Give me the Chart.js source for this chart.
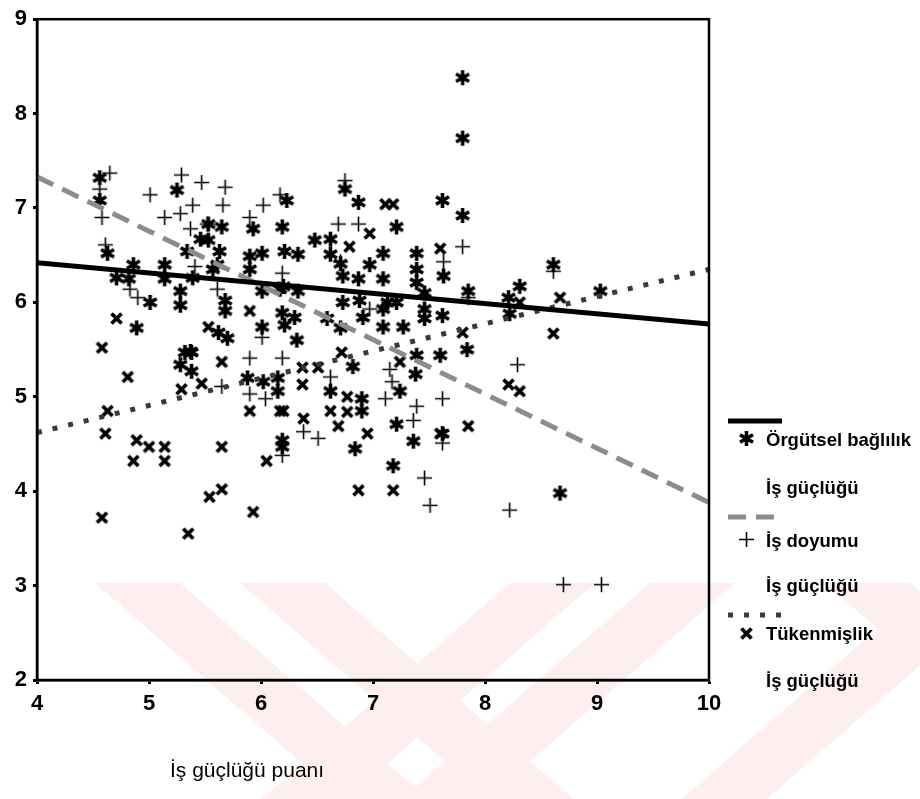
<!DOCTYPE html>
<html lang="tr">
<head>
<meta charset="UTF-8">
<title>İş güçlüğü puanı</title>
<script src="https://cdn.jsdelivr.net/npm/chart.js"></script>
<style>
  html, body { margin: 0; padding: 0; background: #fff; }
  #wrap { position: relative; width: 920px; height: 799px; }
  #legend { position: absolute; left: 0; top: 0; font-family: "Liberation Sans", Arial, sans-serif; font-weight: bold; font-size: 18.5px; color: #000; }
  .lg { position: absolute; white-space: nowrap; line-height: 22px; }
  #xtitle { position: absolute; left: 170px; top: 758px; font-family: "Liberation Sans", Arial, sans-serif; font-size: 21px; color: #000; white-space: nowrap; }
</style>
</head>
<body>
<div id="wrap">
  <canvas id="c" width="920" height="799"></canvas>
  <div id="legend"></div>
  <div id="xtitle">İş güçlüğü puanı</div>
</div>
<script>
// Örgütsel bağlılık (asterisk)
const orgutsel = [
  [4.56,7.32],[4.56,7.08],[4.63,6.52],[4.71,6.26],[4.82,6.25],[4.86,6.40],[5.01,6.00],[4.89,5.73],
  [5.14,6.40],[5.14,6.25],[5.28,6.12],[5.28,5.97],[5.25,7.19],[5.34,6.54],[5.46,6.67],[5.53,6.66],
  [5.53,6.83],[5.65,6.80],[5.63,6.54],[5.61,6.40],[5.57,6.35],[5.39,6.26],[5.68,6.02],[5.68,5.91],
  [5.62,5.68],[5.70,5.62],[5.37,5.48],[5.28,5.34],[5.38,5.47],[5.32,5.47],[5.38,5.27],[5.93,6.78],
  [5.90,6.49],[6.01,6.52],[5.90,6.35],[6.01,6.12],[6.17,6.14],[6.19,5.89],[6.01,5.74],[6.21,5.76],
  [6.30,5.84],[6.32,5.60],[6.23,7.08],[6.19,6.80],[6.21,6.54],[6.33,6.51],[6.20,6.17],[6.33,6.12],
  [5.88,5.20],[6.02,5.16],[6.15,5.20],[6.15,5.06],[6.19,4.54],[6.19,4.47],[6.48,6.66],[6.62,6.67],
  [6.62,6.51],[6.75,7.20],[6.87,7.06],[7.21,6.80],[7.62,7.08],[7.80,8.38],[7.80,7.74],[7.80,6.92],
  [7.09,6.52],[7.39,6.52],[6.71,6.41],[6.97,6.40],[7.39,6.35],[7.63,6.28],[6.73,6.28],[6.87,6.25],
  [7.09,6.25],[7.39,6.21],[7.85,6.12],[7.46,6.10],[6.73,6.00],[6.88,6.02],[7.13,6.00],[7.21,6.00],
  [7.46,5.93],[8.22,5.88],[8.61,6.40],[9.03,6.12],[8.31,6.17],[7.46,5.83],[7.09,5.93],[6.59,5.83],
  [6.71,5.73],[6.91,5.84],[7.09,5.74],[7.27,5.74],[7.62,5.86],[6.82,5.32],[7.60,5.44],[7.84,5.50],
  [6.62,5.06],[6.90,4.98],[6.90,4.85],[6.84,4.45],[7.24,5.06],[7.38,5.24],[7.39,5.44],[7.21,4.71],
  [7.36,4.53],[7.62,4.61],[7.18,4.27],[8.67,3.98],[8.21,6.05]
];
// İş doyumu (plus)
const isDoyumu = [
  [4.65,7.37],[4.56,7.20],[4.58,6.90],[4.61,6.61],[4.83,6.14],[4.90,6.05],[5.01,7.14],[5.29,7.35],
  [5.47,7.27],[5.68,7.22],[5.39,7.03],[5.28,6.94],[5.66,7.03],[5.14,6.90],[5.37,6.78],[5.90,6.90],
  [6.02,7.03],[6.17,7.14],[5.41,6.38],[5.61,6.14],[6.19,6.31],[6.01,5.63],[5.52,6.83],[5.65,5.11],
  [5.90,5.41],[6.19,5.41],[5.90,5.03],[6.04,4.98],[6.19,4.38],[6.38,4.63],[6.51,4.56],[6.69,6.83],
  [6.87,6.83],[6.75,7.29],[7.80,6.59],[7.63,6.43],[6.97,5.93],[6.62,5.21],[7.11,4.98],[7.15,5.29],
  [7.17,5.16],[7.39,4.90],[7.36,4.75],[7.62,4.98],[7.62,4.51],[7.46,4.14],[7.51,3.85],[8.22,3.80],
  [8.29,5.34],[8.70,3.01],[9.04,3.01],[8.61,6.33],[7.85,6.05],[6.71,6.43]
];
// Tükenmişlik (x)
const tukenmislik = [
  [4.58,5.52],[4.71,5.83],[4.81,5.21],[4.63,4.85],[4.61,4.61],[4.89,4.54],[5.00,4.47],[4.86,4.32],
  [5.14,4.47],[5.14,4.32],[4.58,3.72],[5.35,3.55],[5.54,3.94],[5.65,4.02],[5.65,4.47],[5.93,3.78],
  [6.05,4.32],[5.29,5.08],[5.47,5.14],[5.53,5.74],[5.65,5.37],[5.90,4.85],[6.17,4.85],[6.20,4.85],
  [6.37,5.13],[6.37,5.31],[6.38,4.77],[5.90,5.91],[6.51,5.31],[6.72,5.47],[6.62,4.85],[6.77,5.00],
  [6.77,4.84],[6.69,4.69],[6.95,4.61],[7.24,5.37],[6.87,4.01],[7.18,4.01],[7.60,4.61],[7.85,4.69],
  [8.21,5.13],[8.31,5.06],[7.80,5.68],[8.61,5.67],[8.67,6.05],[8.31,6.00],[7.11,7.04],[7.18,7.04],
  [6.97,6.73],[6.79,6.59],[7.60,6.57]
];
// regression lines (x = 4 .. 10)
const fitX = [4, 10];
const fitOrgutsel = [6.42, 5.77];
const fitDoyum = [7.33, 3.88];
const fitTuken = [4.62, 6.35];
const xTicks = [4, 5, 6, 7, 8, 9, 10];
const yTicks = [2, 3, 4, 5, 6, 7, 8, 9];

function glyph(kind) {
  const s = kind === 'plus' ? 17 : 17;
  const cv = document.createElement('canvas');
  cv.width = s; cv.height = s;
  const g = cv.getContext('2d');
  const m = s / 2;
  g.strokeStyle = '#000';
  g.lineCap = 'butt';
  g.beginPath();
  if (kind === 'ast') {
    g.lineWidth = 3.6;
    for (const a of [90, 30, 150]) {
      const r = a * Math.PI / 180;
      g.moveTo(m - 7.5 * Math.cos(r), m - 7.5 * Math.sin(r));
      g.lineTo(m + 7.5 * Math.cos(r), m + 7.5 * Math.sin(r));
    }
  } else if (kind === 'x') {
    g.lineWidth = 3.8;
    g.moveTo(m - 5, m - 5); g.lineTo(m + 5, m + 5);
    g.moveTo(m + 5, m - 5); g.lineTo(m - 5, m + 5);
  } else {
    g.lineWidth = 1.6;
    g.moveTo(m - 7.5, m); g.lineTo(m + 7.5, m);
    g.moveTo(m, m - 7.5); g.lineTo(m, m + 7.5);
  }
  g.stroke();
  return cv;
}
const astImg = glyph('ast'), plusImg = glyph('plus'), xImg = glyph('x');

const toPts = arr => arr.map(p => ({ x: p[0], y: p[1] }));
const linePts = ys => fitX.map((x, i) => ({ x: x, y: ys[i] }));

// faint watermark in the lower part of the page
const watermark = {
  id: 'watermark',
  beforeDraw(chart) {
    const ctx = chart.ctx;
    const y0 = 583, y1 = 799, k = (y1 - y0) * 1.15;
    const bands = [[95, 1], [240, 1], [510, -1], [650, -1], [825, 1], [930, -1]];
    ctx.save();
    ctx.fillStyle = 'rgb(253,238,240)';
    bands.forEach(([x, d]) => {
      ctx.beginPath();
      ctx.moveTo(x, y0); ctx.lineTo(x + 85, y0);
      ctx.lineTo(x + 85 + d * k, y1); ctx.lineTo(x + d * k, y1);
      ctx.closePath(); ctx.fill();
    });
    ctx.restore();
  }
};
const frame = {
  id: 'frame',
  afterDraw(chart) {
    const a = chart.chartArea, ctx = chart.ctx;
    ctx.save();
    ctx.strokeStyle = '#000';
    ctx.lineWidth = 2.5;
    ctx.strokeRect(a.left, a.top, a.right - a.left, a.bottom - a.top);
    ctx.restore();
  }
};

const tickFont = { family: '"Liberation Sans", Arial, sans-serif', size: 22, weight: 'bold' };

new Chart(document.getElementById('c'), {
  type: 'scatter',
  data: {
    datasets: [
      { type: 'line', data: linePts(fitOrgutsel), borderColor: '#000', borderWidth: 5, pointRadius: 0, order: 0 },
      { type: 'line', data: linePts(fitDoyum), borderColor: '#8c8c8c', borderWidth: 5, borderDash: [18, 10], pointRadius: 0, order: 0 },
      { type: 'line', data: linePts(fitTuken), borderColor: '#3a3a3a', borderWidth: 5, borderDash: [5, 11], pointRadius: 0, order: 0 },
      { label: 'Örgütsel bağlılık', data: toPts(orgutsel), pointStyle: astImg, order: 1 },
      { label: 'İş doyumu', data: toPts(isDoyumu), pointStyle: plusImg, order: 1 },
      { label: 'Tükenmişlik', data: toPts(tukenmislik), pointStyle: xImg, order: 1 }
    ]
  },
  options: {
    responsive: false,
    animation: false,
    layout: { padding: { top: 9, right: 211, left: 0, bottom: 0 } },
    plugins: { legend: { display: false }, tooltip: { enabled: false } },
    scales: {
      x: {
        type: 'linear', min: 4, max: 10,
        afterBuildTicks: s => { s.ticks = xTicks.map(v => ({ value: v })); },
        afterFit: s => { s.height = 119; },
        grid: { drawOnChartArea: false, color: '#000', tickLength: 4, tickWidth: 3 },
        border: { color: '#000', width: 2.5 },
        ticks: { color: '#000', font: tickFont, padding: 7, maxRotation: 0 }
      },
      y: {
        type: 'linear', min: 2, max: 9,
        afterBuildTicks: s => { s.ticks = yTicks.map(v => ({ value: v })); },
        afterFit: s => { s.width = 37; },
        grid: { drawOnChartArea: false, color: '#000', tickLength: 4, tickWidth: 3 },
        border: { color: '#000', width: 2.5 },
        ticks: { color: '#000', font: tickFont, padding: 6 }
      }
    }
  },
  plugins: [watermark, frame]
});

// legend on the right
const lg = document.getElementById('legend');
function add(html, x, y) {
  const d = document.createElement('div');
  d.className = 'lg';
  d.style.left = x + 'px'; d.style.top = (y - 11) + 'px';
  d.innerHTML = html;
  lg.appendChild(d);
}
function lineSample(y, style) {
  const c = document.createElement('canvas');
  c.width = 60; c.height = 8;
  c.style.position = 'absolute'; c.style.left = '726px'; c.style.top = (y - 4) + 'px';
  const g = c.getContext('2d');
  g.strokeStyle = style.color; g.lineWidth = 5; g.setLineDash(style.dash);
  g.beginPath(); g.moveTo(2, 4); g.lineTo(56, 4); g.stroke();
  lg.appendChild(c);
}
function glyphAt(img, x, y) {
  const c = document.createElement('canvas');
  c.width = img.width; c.height = img.height;
  c.getContext('2d').drawImage(img, 0, 0);
  c.style.position = 'absolute';
  c.style.left = (x - img.width / 2) + 'px'; c.style.top = (y - img.height / 2) + 'px';
  lg.appendChild(c);
}
lineSample(421, { color: '#000', dash: [] });
glyphAt(astImg, 746, 438); add('Örgütsel bağlılık', 766, 440);
add('İş güçlüğü', 766, 488);
lineSample(517, { color: '#8c8c8c', dash: [18, 10] });
glyphAt(plusImg, 746, 539); add('İş doyumu', 766, 541);
add('İş güçlüğü', 766, 586);
lineSample(615, { color: '#3a3a3a', dash: [5, 11] });
glyphAt(xImg, 746, 633); add('Tükenmişlik', 766, 634);
add('İş güçlüğü', 766, 681);
</script>
</body>
</html>
